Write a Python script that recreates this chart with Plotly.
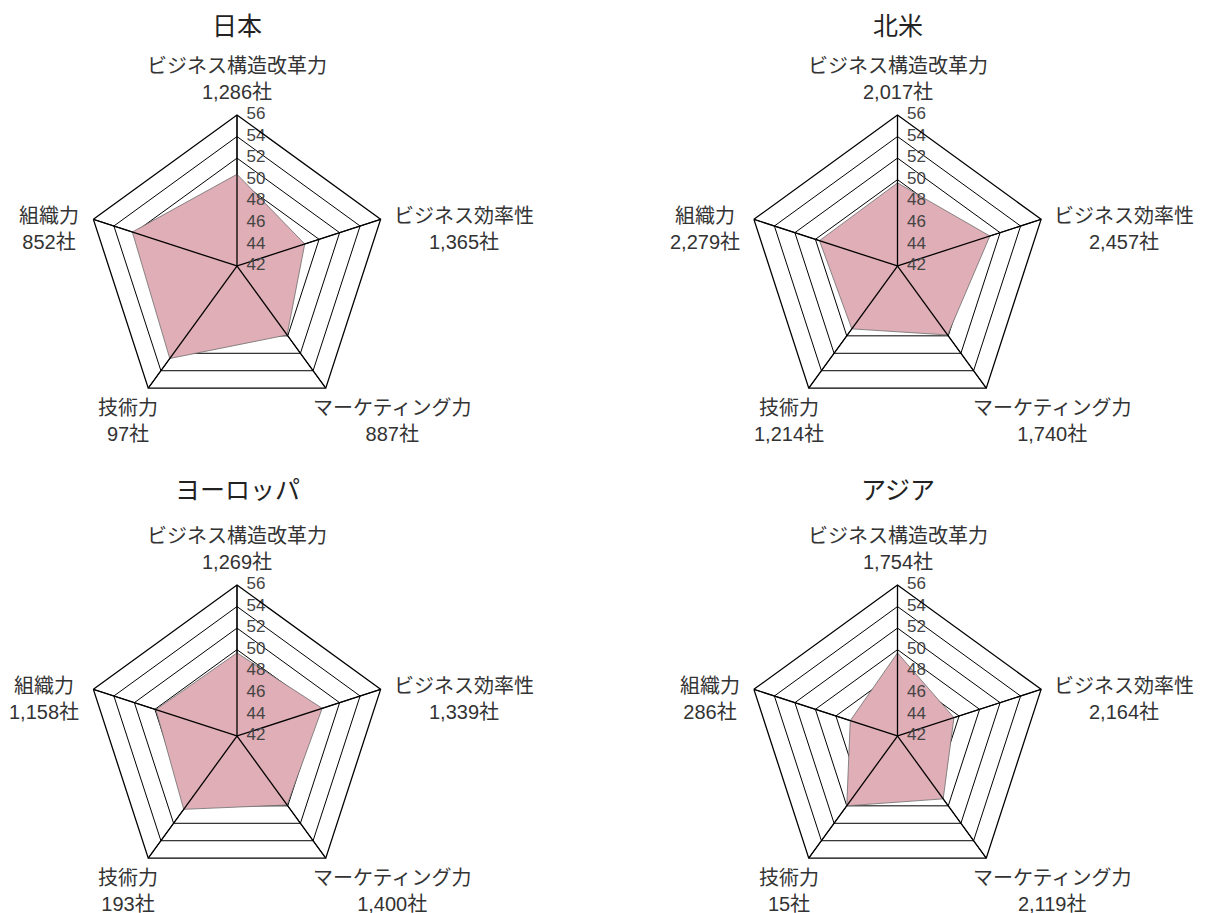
import math
import plotly.graph_objects as go

# ------------------------------------------------------------
# DATA
# ------------------------------------------------------------
categories = ["ビジネス構造改革力", "ビジネス効率性", "マーケティング力", "技術力", "組織力"]
regions = ["日本", "北米", "ヨーロッパ", "アジア"]

scores_japan = [50.5, 48.6, 49.9, 52.6, 52.2]
scores_na = [49.7, 51.0, 49.9, 49.2, 49.6]
scores_europe = [49.7, 50.3, 49.9, 50.4, 49.9]
scores_asia = [49.7, 47.5, 49.2, 50.0, 46.6]

counts_japan = [1286, 1365, 887, 97, 852]
counts_na = [2017, 2457, 1740, 1214, 2279]
counts_europe = [1269, 1339, 1400, 193, 1158]
counts_asia = [1754, 2164, 2119, 15, 286]

radial_ticks = [42, 44, 46, 48, 50, 52, 54, 56]

scores = [scores_japan, scores_na, scores_europe, scores_asia]
counts = [counts_japan, counts_na, counts_europe, counts_asia]

# ------------------------------------------------------------
# LAYOUT
# ------------------------------------------------------------
W, H = 1210, 913
OFF = 8  # page body margin shifts the figure
FONT = "Liberation Sans, Arial, Noto Sans CJK JP"
FILL = "#E0AEB6"

# pentagon centres on screen (px), outer radius, title rows
centres = [(237, 266), (897.5, 266), (237, 736), (897.5, 736)]
RAD = 151
title_y = [26, 26, 490, 490]

# label placement around each vertex: (dx, dy, xanchor, yanchor)
label_place = [
    (0, -10, "center", "bottom"),
    (11, 10, "left", "middle"),
    (-15, 7, "left", "top"),
    (-20, 7, "center", "top"),
    (-12, 10, "right", "middle"),
]


def paper(x, y):
    return (x - OFF) / W, 1 - (y - OFF) / H


fig = go.Figure()
layout = {}
annotations = []

for i, (reg, sc, cn) in enumerate(zip(regions, scores, counts)):
    pid = "polar" if i == 0 else f"polar{i+1}"
    cx, cy = centres[i]

    fig.add_trace(go.Scatterpolar(
        r=sc + sc[:1],
        theta=categories + categories[:1],
        mode="lines",
        fill="toself",
        fillcolor=FILL,
        line=dict(color="rgba(110,110,110,0.8)", width=1),
        showlegend=False,
        hoverinfo="none",
        subplot=pid,
    ))

    # spokes on top of the fill
    sr, st = [], []
    for c in categories:
        sr += [radial_ticks[0], radial_ticks[-1], None]
        st += [c, c, c]
    fig.add_trace(go.Scatterpolar(
        r=sr, theta=st, mode="lines",
        line=dict(color="black", width=1.3),
        showlegend=False, hoverinfo="none", subplot=pid,
    ))

    # radial tick labels to the right of the top spoke
    fig.add_trace(go.Scatterpolar(
        r=radial_ticks, theta=[categories[0]] * len(radial_ticks),
        mode="text", text=["\u2007" + str(v) for v in radial_ticks],
        textposition="middle right",
        textfont=dict(size=17, color="#444", family=FONT),
        cliponaxis=False,
        showlegend=False, hoverinfo="none", subplot=pid,
    ))

    px0, py0 = paper(cx - RAD, cy + RAD)
    px1, py1 = paper(cx + RAD, cy - RAD)
    layout[pid] = dict(
        domain=dict(x=[px0, px1], y=[py0, py1]),
        gridshape="linear",
        bgcolor="white",
        radialaxis=dict(
            range=[radial_ticks[0] - 0.01, radial_ticks[-1]],
            tickvals=radial_ticks,
            angle=90,
            showline=False,
            showticklabels=False,
            ticks="",
            gridcolor="black",
            gridwidth=1.3,
        ),
        angularaxis=dict(
            direction="clockwise",
            rotation=90,
            categoryarray=categories,
            showticklabels=False,
            ticks="",
            showline=True,
            linecolor="black",
            linewidth=1.3,
            gridcolor="black",
            gridwidth=1.3,
        ),
    )

    # category labels with company counts
    for k, (c, n) in enumerate(zip(categories, cn)):
        ang = math.radians(90 - 72 * k)
        vx = cx + RAD * math.cos(ang)
        vy = cy - RAD * math.sin(ang)
        dx, dy, xa, ya = label_place[k]
        ax_, ay_ = paper(vx + dx, vy + dy)
        annotations.append(dict(
            text=f"{c}<br>{n:,}社", x=ax_, y=ay_,
            xref="paper", yref="paper", showarrow=False,
            xanchor=xa, yanchor=ya, align="center",
            font=dict(size=20, color="#333", family=FONT),
        ))

    tx, ty = paper(cx, title_y[i])
    annotations.append(dict(
        text=reg, x=tx, y=ty,
        xref="paper", yref="paper", showarrow=False,
        xanchor="center", yanchor="middle",
        font=dict(size=25, color="#222", family=FONT),
    ))

fig.update_layout(
    width=W, height=H,
    paper_bgcolor="white",
    plot_bgcolor="white",
    margin=dict(l=0, r=0, t=0, b=0),
    annotations=annotations,
    **layout,
)

fig.write_html("out.html")
